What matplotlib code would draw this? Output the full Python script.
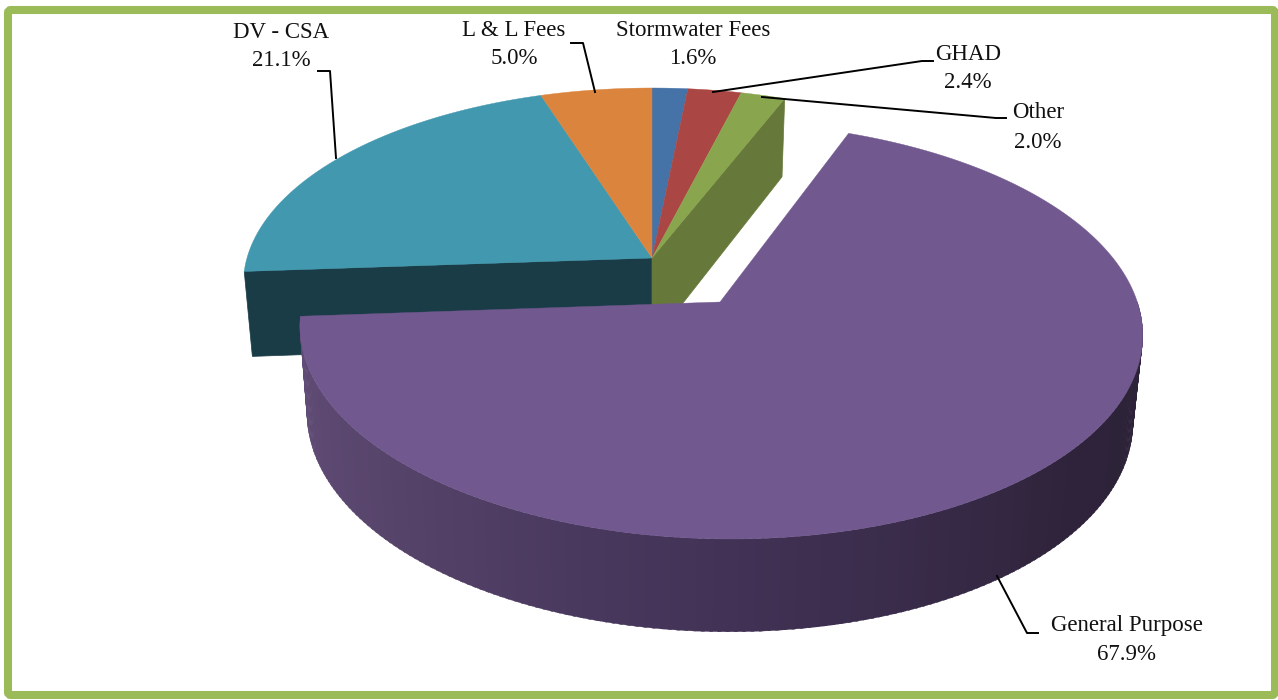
import numpy as np
import matplotlib
matplotlib.use("Agg")
import matplotlib.pyplot as plt
from matplotlib.patches import Polygon, FancyBboxPatch

labels = ["Stormwater Fees", "GHAD", "Other", "General Purpose", "DV - CSA", "L & L Fees"]
shares = [1.6, 2.4, 2.0, 67.9, 21.1, 5.0]
top_colors = ["#4572a7", "#aa4643", "#89a54e", "#71588f", "#4198af", "#db843d"]

# label centre (x, y of the two lines) and leader line, in pixels
label_pos = [(693, 30, 59), (968, 54, 82), (1038, 113, 142), (1127, 625, 654), (281, 33, 61), (514, 31, 59)]
leaders = [
    None,
    [(713, 92), (922, 61), (933, 61)],
    [(762, 97), (996, 118), (1006, 118)],
    [(997, 576), (1027, 633), (1038, 633)],
    [(318, 71), (330, 71), (336, 158)],
    [(571, 43), (583, 43), (595, 92)],
]
explode = {3: (0.163, -0.2218)}

# perspective of the pie plane
cx, cy = 652, 258
A, B, k = 405, 192.6, 0.133


def project(X, Y, bottom=False):
    w = 1 + k * Y
    sx = cx + A * X / w
    sy = cy - B * Y / w
    if bottom:
        sx = cx + (sx - cx) * 0.98
        sy = sy + 84.5 - 6.8 * Y
    return sx, sy


def rim(a0, a1, off, bottom=False):
    t = np.radians(np.linspace(a0, a1, max(int(abs(a1 - a0) * 2), 2)))
    return project(off[0] + np.sin(t), off[1] + np.cos(t), bottom)


def corner(a, off, bottom=False):
    t = np.radians(a)
    return project(off[0] + np.sin(t), off[1] + np.cos(t), bottom)


fig = plt.figure(figsize=(12.78, 7), dpi=100)
ax = fig.add_axes([0, 0, 1, 1])
ax.set_xlim(0, 1278)
ax.set_ylim(700, 0)
ax.axis("off")

# frame
ax.add_patch(FancyBboxPatch((8, 10), 1267, 685, boxstyle="round,pad=0,rounding_size=3",
                            fc="white", ec="#9bbb59", lw=5.8, zorder=0))

edges = np.cumsum([0] + shares) * 3.6
no_off = (0, 0)

# inner walls of the slices left behind
p0 = project(0, 0)
p0b = project(0, 0, True)
a = edges[4]
c0 = corner(a, no_off)
c1 = corner(a, no_off, True)
ax.add_patch(Polygon([p0, c0, c1, p0b], fc="#1a3c47", ec="#1a3c47", lw=0.5, zorder=1))
a = edges[3]
c0 = corner(a, no_off)
c1 = corner(a, no_off, True)
ax.add_patch(Polygon([p0, c0, c1, p0b], fc="#66783a", ec="#66783a", lw=0.5, zorder=1))

for i, col in enumerate(top_colors):
    if i == 3:
        continue
    xs, ys = rim(edges[i], edges[i + 1], no_off)
    ax.add_patch(Polygon(np.r_[[p0], np.c_[xs, ys]], fc=col, ec=col, lw=0.3, zorder=2))

# exploded slice: shaded outer wall then the top
off = explode[3]
side_stops = [90, 130, 180, 230, 266]
side_rgb = np.array([[44, 34, 56], [46, 35, 58], [66, 50, 86], [88, 69, 108], [98, 77, 120]])
t_deg = np.arange(90, edges[4], 1.0)
for a0 in t_deg:
    a1 = min(a0 + 1.4, edges[4])
    xa, ya = rim(a0, a1, off)
    xb, yb = rim(a0, a1, off, True)
    rgb = [np.interp(a0, side_stops, side_rgb[:, j]) / 255 for j in range(3)]
    ax.add_patch(Polygon(np.r_[np.c_[xa, ya], np.c_[xb, yb][::-1]], fc=rgb, ec=rgb, lw=0.2, zorder=3))

xs, ys = rim(edges[3], edges[4], off)
ax.add_patch(Polygon(np.r_[[project(*off)], np.c_[xs, ys]], fc=top_colors[3], ec=top_colors[3], lw=0.3, zorder=4))

# labels
for name, share, pos, line in zip(labels, shares, label_pos, leaders):
    ax.text(pos[0], pos[1], name, ha="center", va="center", fontsize=16.5,
            family="Liberation Serif", color="#111111", zorder=6)
    ax.text(pos[0], pos[2], f"{share:.1f}%", ha="center", va="center", fontsize=16.5,
            family="Liberation Serif", color="#111111", zorder=6)
    if line:
        ax.plot(*zip(*line), color="black", lw=1.4, zorder=5, solid_joinstyle="round")

fig.savefig("out.png", dpi=100)
